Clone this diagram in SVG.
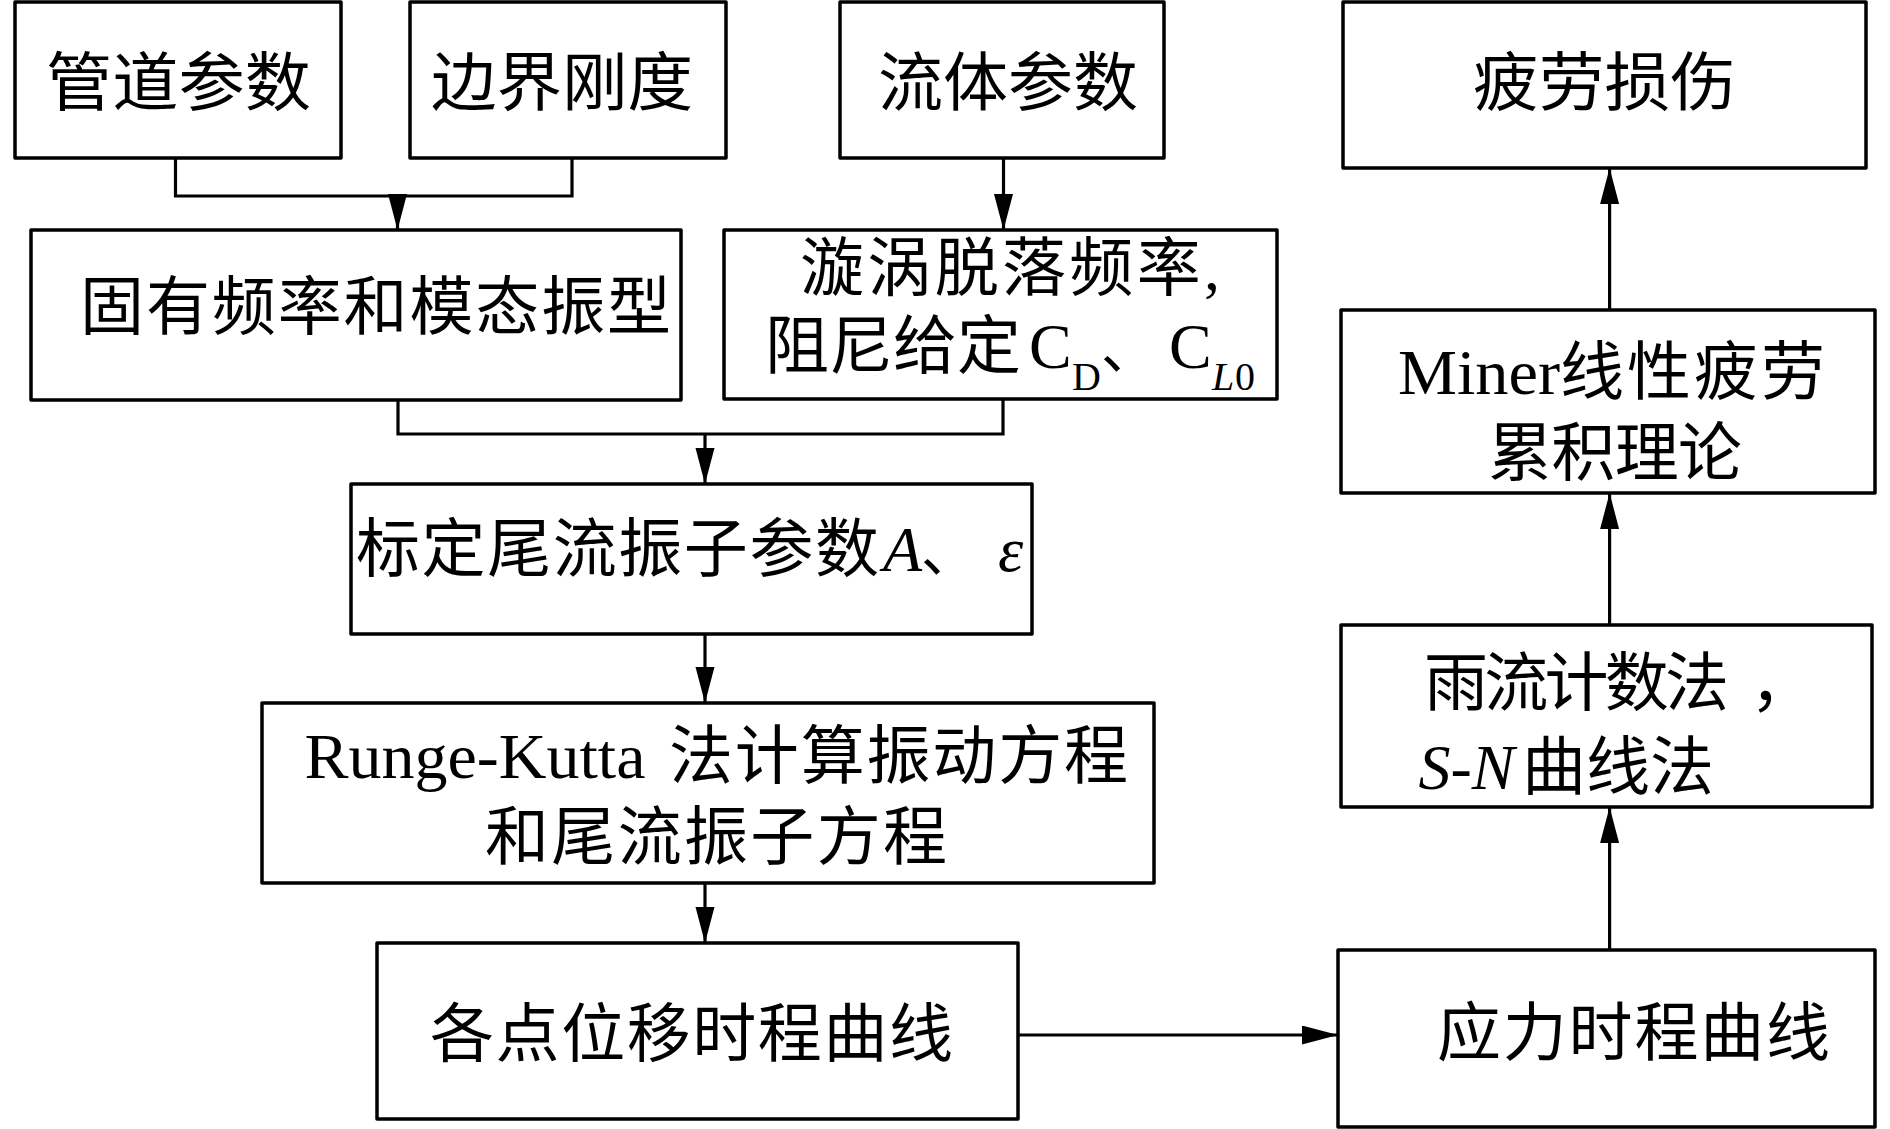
<svg xmlns="http://www.w3.org/2000/svg" width="1890" height="1129" viewBox="0 0 1890 1129">
<style>
.box{fill:#fff;stroke:#000;stroke-width:3.5;stroke-linejoin:round}
.ln{fill:none;stroke:#000;stroke-width:3.2}
text{font-family:"Liberation Serif","Noto Sans CJK SC",serif;font-size:64px;fill:#000}
.it{font-style:italic}
.sub{font-size:40px}
.dun{font-size:56px}
</style>
<defs>
<marker id="ah" markerUnits="userSpaceOnUse" markerWidth="37" markerHeight="20" refX="36" refY="9.5" orient="auto">
<path d="M0,0 L36,9.5 L0,19 z" fill="#000"/>
</marker>
</defs>
<rect width="1890" height="1129" fill="#fff"/>
<g id="connectors">
<polyline class="ln" points="175.5,158 175.5,196 572,196 572,158"/>
<line class="ln" x1="397.5" y1="196" x2="397.5" y2="230" marker-end="url(#ah)"/>
<line class="ln" x1="1003.5" y1="158" x2="1003.5" y2="230" marker-end="url(#ah)"/>
<polyline class="ln" points="398,400 398,434 1003,434 1003,399"/>
<line class="ln" x1="705" y1="434" x2="705" y2="484" marker-end="url(#ah)"/>
<line class="ln" x1="705" y1="634" x2="705" y2="703" marker-end="url(#ah)"/>
<line class="ln" x1="705" y1="883" x2="705" y2="943" marker-end="url(#ah)"/>
<line class="ln" x1="1018" y1="1035" x2="1338" y2="1035" marker-end="url(#ah)"/>
<line class="ln" x1="1609.6" y1="950" x2="1609.6" y2="807" marker-end="url(#ah)"/>
<line class="ln" x1="1609.6" y1="625" x2="1609.6" y2="493" marker-end="url(#ah)"/>
<line class="ln" x1="1609.6" y1="310" x2="1609.6" y2="168" marker-end="url(#ah)"/>
</g>
<g id="n1"><rect class="box" x="15" y="2" width="326" height="156"/>
<text x="178.5" y="105" text-anchor="middle" textLength="265" lengthAdjust="spacingAndGlyphs">管道参数</text></g>
<g id="n2"><rect class="box" x="410" y="2" width="316" height="156"/>
<text x="562" y="105" text-anchor="middle" textLength="262" lengthAdjust="spacingAndGlyphs">边界刚度</text></g>
<g id="n3"><rect class="box" x="840" y="2" width="324" height="156"/>
<text x="1008" y="105" text-anchor="middle" textLength="260" lengthAdjust="spacingAndGlyphs">流体参数</text></g>
<g id="n4"><rect class="box" x="1343" y="2" width="523" height="166"/>
<text x="1604.5" y="105" text-anchor="middle" textLength="263" lengthAdjust="spacingAndGlyphs">疲劳损伤</text></g>
<g id="n5"><rect class="box" x="31" y="230" width="650" height="170"/>
<text x="375.5" y="329" text-anchor="middle" textLength="591" lengthAdjust="spacing">固有频率和模态振型</text></g>
<g id="n6"><rect class="box" x="724" y="230" width="553" height="169"/>
<text x="800" y="290" textLength="420" lengthAdjust="spacing">漩涡脱落频率,</text>
<text y="368"><tspan x="765">阻尼给定</tspan><tspan x="1029">C</tspan><tspan x="1072" y="390" class="sub">D</tspan><tspan x="1101" y="368" class="dun">、</tspan><tspan x="1169">C</tspan><tspan x="1212" y="390" class="sub it">L</tspan><tspan x="1235" y="390" class="sub">0</tspan></text></g>
<g id="n7"><rect class="box" x="351" y="484" width="681" height="150"/>
<text y="571"><tspan x="356" textLength="523" lengthAdjust="spacing">标定尾流振子参数</tspan><tspan x="883" class="it">A</tspan><tspan x="921" class="dun">、</tspan><tspan x="998" class="it">ε</tspan></text></g>
<g id="n8"><rect class="box" x="262" y="703" width="892" height="180"/>
<text y="778"><tspan x="304.5" textLength="341" lengthAdjust="spacingAndGlyphs">Runge-Kutta</tspan><tspan x="669" textLength="459" lengthAdjust="spacing">法计算振动方程</tspan></text>
<text x="716" y="859" text-anchor="middle" textLength="462" lengthAdjust="spacing">和尾流振子方程</text></g>
<g id="n9"><rect class="box" x="377" y="943" width="641" height="176"/>
<text x="691.5" y="1056" text-anchor="middle" textLength="523" lengthAdjust="spacing">各点位移时程曲线</text></g>
<g id="n10"><rect class="box" x="1338" y="950" width="537" height="177"/>
<text x="1633.5" y="1055" text-anchor="middle" textLength="393" lengthAdjust="spacing">应力时程曲线</text></g>
<g id="n11"><rect class="box" x="1341" y="625" width="531" height="182"/>
<text y="705"><tspan x="1424" textLength="305" lengthAdjust="spacing">雨流计数法</tspan><tspan x="1750">，</tspan></text>
<text y="789"><tspan x="1418.5" class="it">S</tspan><tspan>-</tspan><tspan class="it">N</tspan><tspan x="1522" textLength="192" lengthAdjust="spacing">曲线法</tspan></text></g>
<g id="n12"><rect class="box" x="1341" y="310" width="534" height="183"/>
<text y="394"><tspan x="1398" textLength="162" lengthAdjust="spacingAndGlyphs">Miner</tspan><tspan x="1560" textLength="265" lengthAdjust="spacing">线性疲劳</tspan></text>
<text x="1615" y="475" text-anchor="middle" textLength="254" lengthAdjust="spacing">累积理论</text></g>
</svg>
